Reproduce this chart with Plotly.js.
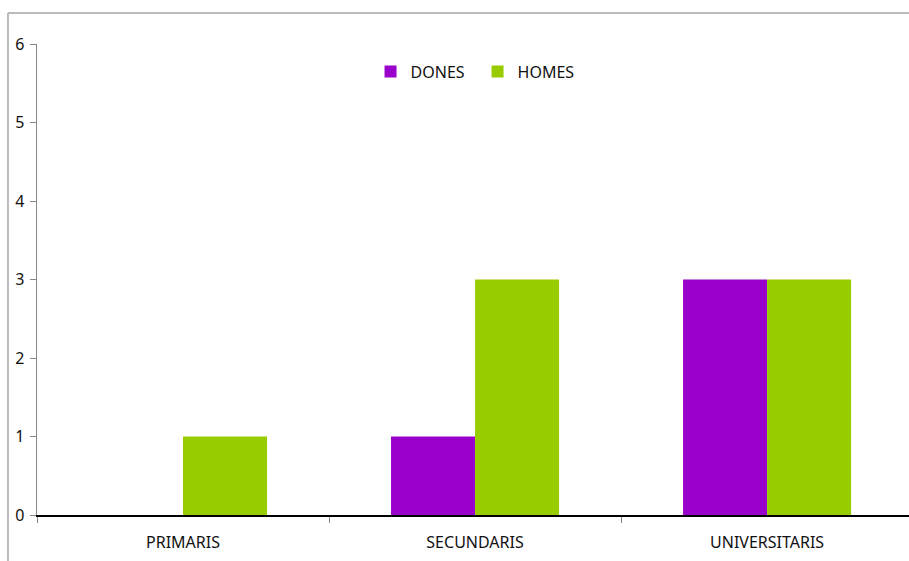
<!DOCTYPE html>
<html><head><meta charset="utf-8">
<script src="https://cdn.plot.ly/plotly-3.0.1.min.js"></script>
<style>body{margin:0;padding:0;background:#fff}#chart{width:909px;height:561px}</style>
</head><body><div id="chart"></div>
<script>
var categories = ["PRIMARIS", "SECUNDARIS", "UNIVERSITARIS"];
var dones = [0, 1, 3];
var homes = [1, 3, 3];
var yTicks = [0, 1, 2, 3, 4, 5, 6];

var font = {family: "Noto Sans, Open Sans, sans-serif", size: 16, color: "#111"};
var traces = [
  {type: "bar", name: "DONES", x: categories, y: dones, marker: {color: "#9900CC"}},
  {type: "bar", name: "HOMES", x: categories, y: homes, marker: {color: "#99CC00"}}
];
var layout = {
  width: 909, height: 561,
  margin: {l: 37, r: 0, t: 44, b: 46, pad: 0},
  paper_bgcolor: "#fff", plot_bgcolor: "#fff",
  font: font,
  barmode: "group", bargap: 0.4246, bargroupgap: 0,
  showlegend: true,
  legend: {orientation: "h", x: 0.3825, y: 0.9416, xanchor: "left", yanchor: "middle",
           entrywidth: 62, entrywidthmode: "pixels",
           font: {family: font.family, size: 16, color: "#111"}, itemwidth: 30, tracegroupgap: 0, bgcolor: "rgba(0,0,0,0)"},
  xaxis: {type: "category", range: [-0.5, 2.486], showgrid: false, zeroline: false,
          showline: true, linecolor: "#000", linewidth: 1.5,
          ticks: "outside", tickson: "boundaries", ticklen: 6, tickcolor: "#888", tickwidth: 1,
          ticklabelstandoff: 12,
          tickfont: font, fixedrange: true},
  yaxis: {range: [0, 6], tickvals: yTicks, showgrid: false, zeroline: false,
          showline: true, linecolor: "#888", linewidth: 1.5,
          ticks: "outside", ticklen: 6, tickcolor: "#888", tickwidth: 1,
          ticklabelstandoff: 2,
          tickfont: font, fixedrange: true},
  shapes: [
    {type: "line", xref: "paper", yref: "paper", x0: -0.0333, x1: 1.01, y0: 1.0658, y1: 1.0658, line: {color: "#bbb", width: 2}},
    {type: "line", xref: "paper", yref: "paper", x0: -0.0333, x1: -0.0333, y0: 1.0658, y1: -0.11, line: {color: "#bbb", width: 2}}
  ]
};
Plotly.newPlot("chart", traces, layout, {displayModeBar: false, staticPlot: true});
</script></body></html>
